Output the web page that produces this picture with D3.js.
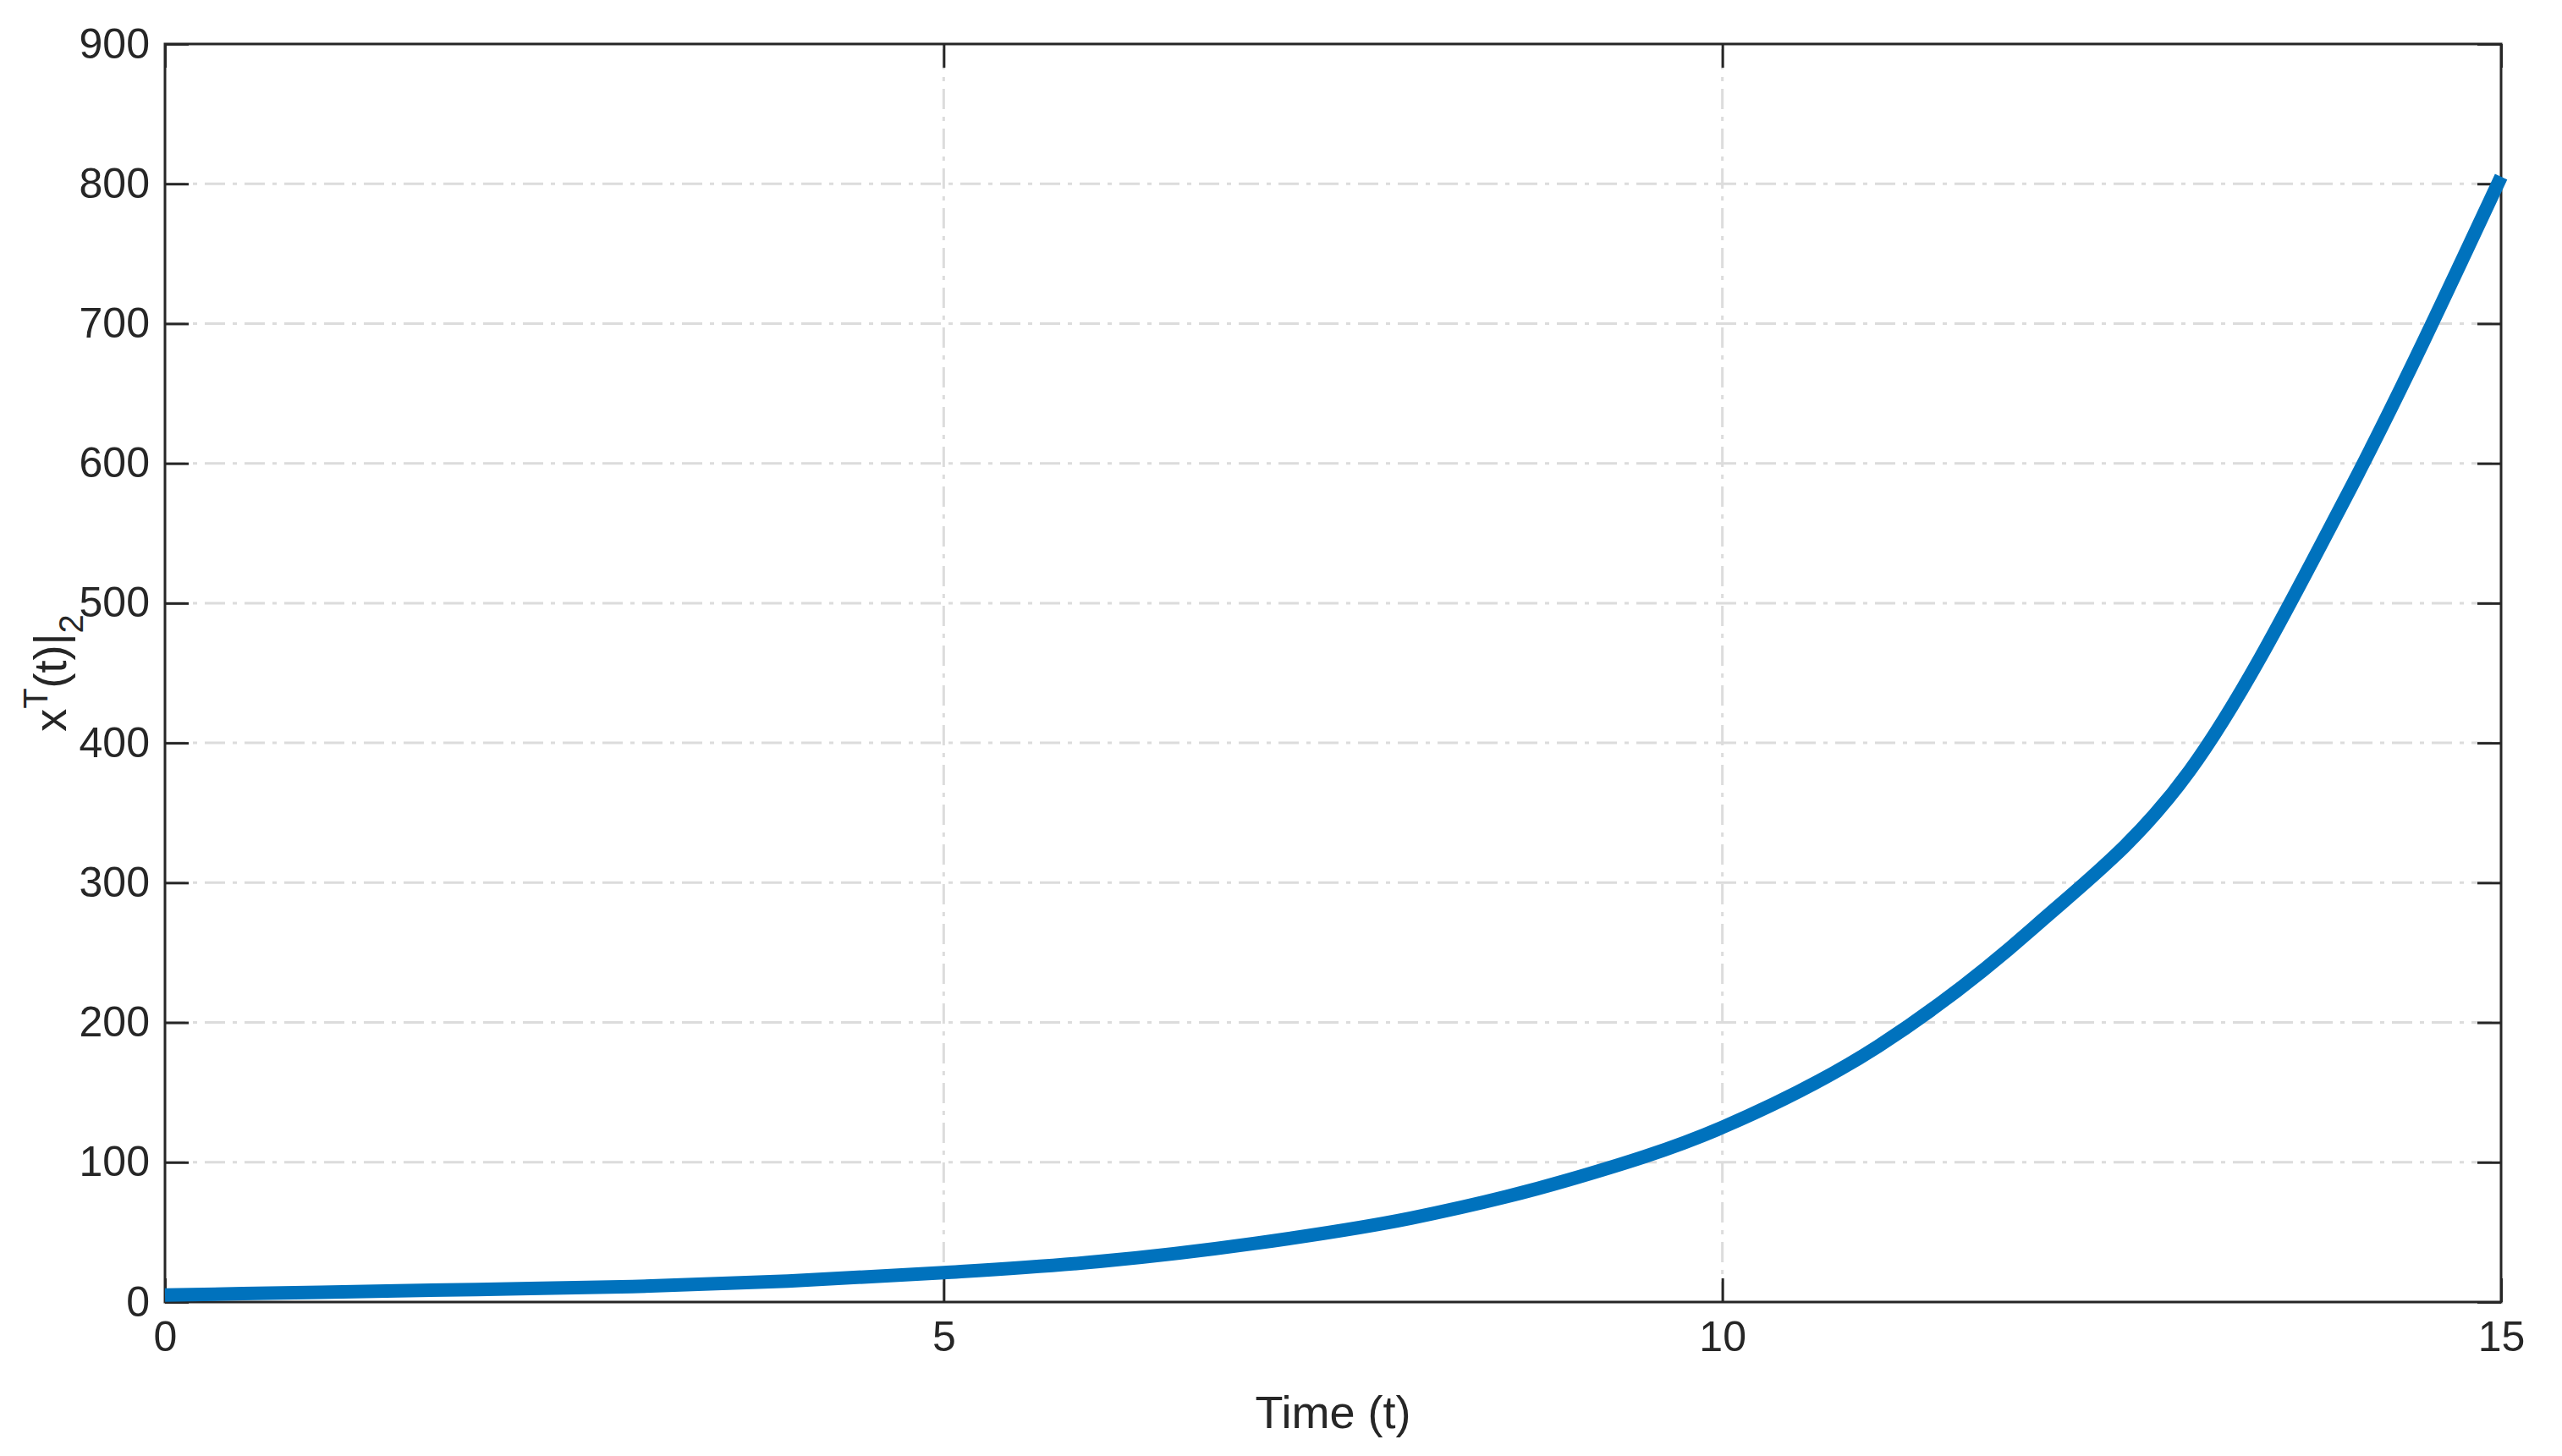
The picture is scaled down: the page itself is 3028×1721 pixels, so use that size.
<!DOCTYPE html>
<html>
<head>
<meta charset="utf-8">
<script src="https://cdn.jsdelivr.net/npm/d3@7"></script>
<style>
body { margin: 0; background: #fff; }
text { font-family: "Liberation Sans Narrow", "Arial Narrow", "Liberation Sans", sans-serif; fill: #262626; }
</style>
</head>
<body>
<div id="chart"></div>
<script>
// data
var times = [0, 1, 2, 3, 4, 5, 6, 7, 8, 9, 10, 11, 12, 13, 14, 15];
var norms = [5, 7, 9, 11, 15, 21, 29, 42, 60, 87, 125, 183, 268, 380, 575, 805];
var xTicks = [0, 5, 10, 15];
var yTicks = [0, 100, 200, 300, 400, 500, 600, 700, 800, 900];

var width = 3028, height = 1721;
var margin = { top: 52, right: 72, bottom: 182, left: 195 };

var svg = d3.select("#chart").append("svg")
    .attr("width", width)
    .attr("height", height);

var x = d3.scaleLinear().domain([0, 15]).range([margin.left, width - margin.right]);
var y = d3.scaleLinear().domain([0, 900]).range([height - margin.bottom, margin.top]);

// grid
svg.append("g").selectAll("line").data(xTicks.slice(1, -1)).enter().append("line")
    .attr("x1", d => x(d)).attr("x2", d => x(d))
    .attr("y1", y(0)).attr("y2", y(900))
    .attr("stroke", "#dcdcdc").attr("stroke-width", 3)
    .attr("stroke-dasharray", "24,9,5,9");
svg.append("g").selectAll("line").data(yTicks.slice(1, -1)).enter().append("line")
    .attr("x1", x(0)).attr("x2", x(15))
    .attr("y1", d => y(d)).attr("y2", d => y(d))
    .attr("stroke", "#dcdcdc").attr("stroke-width", 3)
    .attr("stroke-dasharray", "24,9,5,9");

// axes with inward ticks
function styleAxis(g) {
    g.select(".domain").remove();
    g.selectAll("line").attr("stroke", "#262626").attr("stroke-width", 3);
    g.selectAll("text").style("font-size", "50px").attr("fill", "#262626");
}
svg.append("g").attr("transform", `translate(0,${y(0)})`)
    .call(d3.axisBottom(x).tickValues(xTicks).tickFormat(d3.format("d")).tickSizeInner(-28).tickPadding(22))
    .call(styleAxis);
svg.append("g").attr("transform", `translate(0,${y(900)})`)
    .call(d3.axisTop(x).tickValues(xTicks).tickFormat("").tickSizeInner(-28))
    .call(styleAxis);
svg.append("g").attr("transform", `translate(${x(0)},0)`)
    .call(d3.axisLeft(y).tickValues(yTicks).tickFormat(d3.format("d")).tickSizeInner(-28).tickPadding(18))
    .call(styleAxis);
svg.append("g").attr("transform", `translate(${x(15)},0)`)
    .call(d3.axisRight(y).tickValues(yTicks).tickFormat("").tickSizeInner(-28))
    .call(styleAxis);

// box
svg.append("rect")
    .attr("x", x(0)).attr("y", y(900))
    .attr("width", x(15) - x(0)).attr("height", y(0) - y(900))
    .attr("fill", "none").attr("stroke", "#262626").attr("stroke-width", 3);

// curve
var line = d3.line()
    .x((d, i) => x(times[i]))
    .y(d => y(d))
    .curve(d3.curveMonotoneX);
svg.append("path")
    .datum(norms)
    .attr("d", line)
    .attr("fill", "none")
    .attr("stroke", "#0072bd")
    .attr("stroke-width", 16);

// labels
svg.append("text")
    .attr("x", (x(0) + x(15)) / 2).attr("y", 1688)
    .attr("text-anchor", "middle")
    .style("font-size", "54px")
    .text("Time (t)");

var yl = svg.append("text")
    .attr("transform", `translate(78,${(y(0) + y(900)) / 2}) rotate(-90)`)
    .attr("text-anchor", "middle")
    .style("font-size", "54px");
yl.append("tspan").text("x");
yl.append("tspan").attr("dy", -22).style("font-size", "40px").text("T");
yl.append("tspan").attr("dy", 22).text("(t)|");
yl.append("tspan").attr("dy", 20).style("font-size", "40px").text("2");
</script>
</body>
</html>
